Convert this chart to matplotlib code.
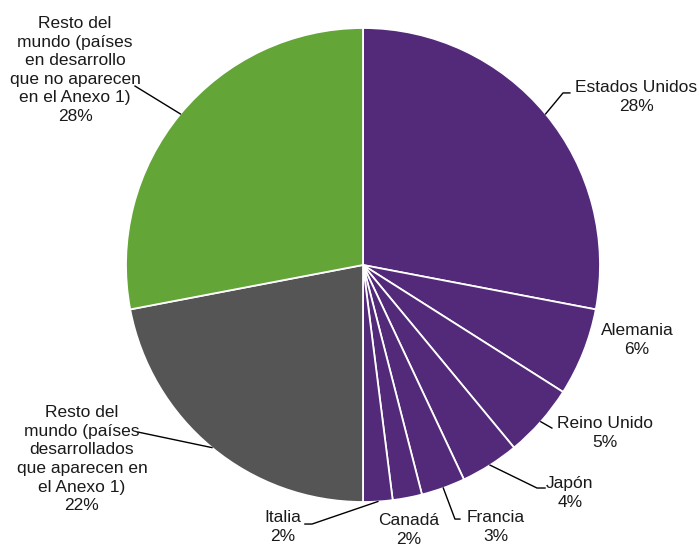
import numpy as np
import matplotlib
matplotlib.use("Agg")
from matplotlib import pyplot as plt

# emission shares by country / group (percent)
labels = ["Estados Unidos", "Alemania", "Reino Unido", "Japón", "Francia",
          "Canadá", "Italia",
          "Resto del\nmundo (países\ndesarrollados\nque aparecen en\nel Anexo 1)",
          "Resto del\nmundo (países\nen desarrollo\nque no aparecen\nen el Anexo 1)"]
shares = [28, 6, 5, 4, 3, 2, 2, 22, 28]

purple = "#532a7a"
colors = [purple] * 7 + ["#555555", "#63a537"]

# text centre, then leader elbow/end points (data units, radius = 1)
text_pos = [(1.152, 0.709), (1.156, -0.316), (1.021, -0.709), (0.873, -0.962),
            (0.561, -1.105), (0.194, -1.118), (-0.338, -1.105),
            (-1.186, -0.819), (-1.215, 0.823)]
leaders = [[(0.844, 0.726), (0.873, 0.726)],
           None,
           [(0.797, -0.688)],
           [(0.734, -0.941), (0.768, -0.941)],
           [(0.388, -1.072), (0.409, -1.072)],
           None,
           [(-0.215, -1.093), (-0.245, -1.093)],
           [(-0.949, -0.705)],
           [(-0.962, 0.755)]]

plt.rcParams["font.family"] = ["Liberation Sans", "DejaVu Sans"]

fig = plt.figure(figsize=(6.99, 5.48), dpi=100)
ax = fig.add_axes([126 / 699, 46 / 548, 474 / 699, 474 / 548])

ax.pie(shares, colors=colors, startangle=90, counterclock=False, radius=1,
       wedgeprops=dict(edgecolor="white", linewidth=1.3))
ax.set_xlim(-1, 1)
ax.set_ylim(-1, 1)
ax.set_aspect("equal")
ax.axis("off")

total = float(sum(shares))
cum = np.cumsum(shares) - np.array(shares) / 2.0
for i, lab in enumerate(labels):
    pct = "%d%%" % round(shares[i] / total * 100)
    tx, ty = text_pos[i]
    ax.text(tx, ty, lab + "\n" + pct, ha="center", va="center",
            fontsize=12.5, linespacing=1.3, color="#1a1a1a", clip_on=False)
    if leaders[i] is not None:
        theta = np.deg2rad(90 - cum[i] / total * 360)
        pts = [(np.cos(theta), np.sin(theta))] + leaders[i]
        xs, ys = zip(*pts)
        ax.plot(xs, ys, color="black", linewidth=1, clip_on=False)

fig.savefig("out.png", dpi=100, facecolor="white")
